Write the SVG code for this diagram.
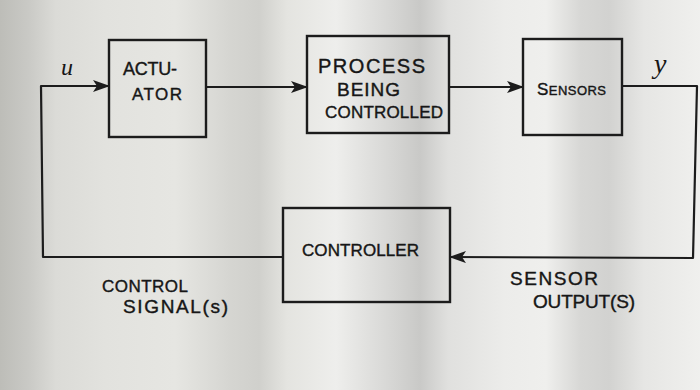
<svg xmlns="http://www.w3.org/2000/svg" width="700" height="390" viewBox="0 0 700 390">
  <defs>
    <linearGradient id="paper" x1="0" y1="0" x2="1" y2="0">
      <stop offset="0" stop-color="#bdbdb8"/>
      <stop offset="0.04" stop-color="#c9c9c5"/>
      <stop offset="0.08" stop-color="#dbdbd7"/>
      <stop offset="0.15" stop-color="#e2e2de"/>
      <stop offset="0.25" stop-color="#e6e6e2"/>
      <stop offset="0.33" stop-color="#d5d5d1"/>
      <stop offset="0.37" stop-color="#d0d0cc"/>
      <stop offset="0.41" stop-color="#e4e4e0"/>
      <stop offset="0.48" stop-color="#eeeeec"/>
      <stop offset="0.55" stop-color="#d9d9d7"/>
      <stop offset="0.60" stop-color="#c9c9c7"/>
      <stop offset="0.64" stop-color="#e0e0de"/>
      <stop offset="0.72" stop-color="#ececea"/>
      <stop offset="0.78" stop-color="#efefed"/>
      <stop offset="0.83" stop-color="#d7d7d5"/>
      <stop offset="0.87" stop-color="#d2d2d0"/>
      <stop offset="0.92" stop-color="#e6e6e4"/>
      <stop offset="1" stop-color="#f0f0ee"/>
    </linearGradient>
    <marker id="arrow" markerUnits="userSpaceOnUse" markerWidth="17" markerHeight="12" refX="16" refY="6" orient="auto">
      <path d="M0,0 L17,6 L0,12 L4,6 z" fill="#1c1c1c"/>
    </marker>
    <style>
      .box { fill: none; stroke: #1c1c1c; stroke-width: 2.4; }
      .wire { fill: none; stroke: #1c1c1c; stroke-width: 2.2; stroke-linejoin: round; }
      .lbl { font-family: "Liberation Sans", Arial, sans-serif; fill: #161616; stroke: #161616; stroke-width: 0.4; }
      .var { font-family: "Liberation Serif", "Times New Roman", serif; font-style: italic; fill: #161616; }
    </style>
  </defs>

  <rect x="0" y="0" width="700" height="390" fill="url(#paper)"/>

  <g id="connectors">
    <path class="wire" d="M283,257 L43,257 L41,86 L109,86" marker-end="url(#arrow)"/>
    <path class="wire" d="M206,87 L307,87" marker-end="url(#arrow)"/>
    <path class="wire" d="M449,87 L523,87" marker-end="url(#arrow)"/>
    <path class="wire" d="M622,86 L697,86 L693,258 L450,257" marker-end="url(#arrow)"/>
  </g>

  <g id="actuator">
    <rect class="box" x="109" y="40" width="97" height="97"/>
    <text class="lbl" x="123" y="75" font-size="18" textLength="54">ACTU-</text>
    <text class="lbl" x="132" y="100" font-size="17" textLength="50">ATOR</text>
  </g>

  <g id="process">
    <rect class="box" x="307" y="36" width="142" height="97"/>
    <text class="lbl" x="318" y="73" font-size="20" textLength="107">PROCESS</text>
    <text class="lbl" x="337" y="96" font-size="19" textLength="63">BEING</text>
    <text class="lbl" x="325" y="118" font-size="17" textLength="118">CONTROLLED</text>
  </g>

  <g id="sensors">
    <rect class="box" x="523" y="39" width="99" height="96"/>
    <text class="lbl" x="537" y="95" font-size="13" textLength="69"><tspan font-size="17">S</tspan>ENSORS</text>
  </g>

  <g id="controller">
    <rect class="box" x="283" y="208" width="167" height="94"/>
    <text class="lbl" x="302" y="256" font-size="17" textLength="117">CONTROLLER</text>
  </g>

  <g id="labels">
    <text class="var" x="61" y="75" font-size="24">u</text>
    <text class="var" x="654" y="73" font-size="28">y</text>
    <text class="lbl" x="102" y="292" font-size="17" textLength="86">CONTROL</text>
    <text class="lbl" x="123" y="313" font-size="19" textLength="105">SIGNAL(s)</text>
    <text class="lbl" x="510" y="285" font-size="19" textLength="88">SENSOR</text>
    <text class="lbl" x="533" y="308" font-size="19" textLength="102">OUTPUT(S)</text>
  </g>
</svg>
